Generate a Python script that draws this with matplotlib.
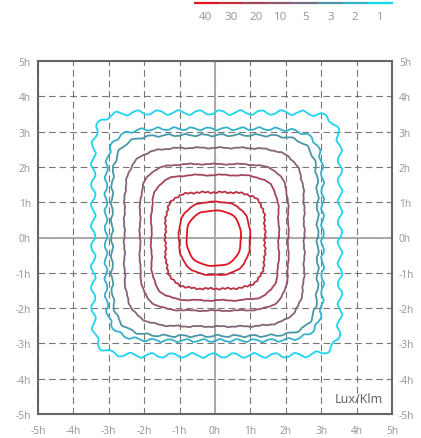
import numpy as np
import matplotlib
matplotlib.use('Agg')
import matplotlib.pyplot as plt

plt.rcParams['font.family'] = ['Noto Sans', 'DejaVu Sans']

# ---------------- data ----------------
legend_labels = ['40', '30', '20', '10', '5', '3', '2', '1']
legend_colors = ['#e3131f', '#c4303e', '#a6465a', '#8c5a6c',
                 '#6e7282', '#4e94a8', '#30b4cc', '#14d6f0']

tick_values = [-5, -4, -3, -2, -1, 0, 1, 2, 3, 4, 5]
tick_labels = ['-5h', '-4h', '-3h', '-2h', '-1h', '0h', '1h', '2h', '3h', '4h', '5h']

# isolux contours, innermost first (extents in units of h)
contour_levels = [50, 40, 30, 20, 10, 5, 3, 2, 1]
ext_right  = [0.73, 0.99, 1.41, 1.80, 2.07, 2.52, 2.90, 3.04, 3.53]
ext_top    = [0.76, 1.01, 1.28, 1.77, 2.08, 2.54, 2.90, 3.08, 3.54]
ext_left   = [0.80, 1.02, 1.40, 1.80, 2.12, 2.56, 2.91, 3.08, 3.44]
ext_bottom = [0.80, 1.06, 1.45, 1.78, 2.07, 2.52, 2.79, 2.92, 3.34]
squareness = [2.5, 2.6, 4.0, 4.5, 4.8, 4.8, 6.0, 7.0, 10.0]
contour_colors = ['#e3131f', '#d21e2c', '#b83444', '#a4465a', '#94566a',
                  '#84647a', '#4a96a8', '#34b2ca', '#1ed4ef']
wave_amp  = [0.008, 0.010, 0.012, 0.014, 0.012, 0.014, 0.028, 0.038, 0.062]
wave_len  = [0.50, 0.50, 0.50, 0.70, 0.70, 0.60, 0.50, 0.48, 0.58]
jag_amp   = [0.000, 0.004, 0.016, 0.006, 0.006, 0.008, 0.006, 0.006, 0.006]
jag_len   = [0.20, 0.20, 0.16, 0.22, 0.22, 0.22, 0.22, 0.22, 0.22]


def squircle_outline(L, R, B, T, n, amp, wl, jamp, jwl, m=40000, k=3000):
    phi = np.linspace(0, 2 * np.pi, m)
    c, s_ = np.cos(phi), np.sin(phi)
    a = np.where(c >= 0, R, L)
    b = np.where(s_ >= 0, T, B)
    rr = 1.0 / (np.abs(c / a) ** n + np.abs(s_ / b) ** n) ** (1.0 / n)
    x0, y0 = rr * c, rr * s_
    s0 = np.concatenate([[0], np.cumsum(np.hypot(np.diff(x0), np.diff(y0)))])
    P = s0[-1]
    s = np.linspace(0, P, k)
    x = np.interp(s, s0, x0)
    y = np.interp(s, s0, y0)
    dx = np.gradient(x)
    dy = np.gradient(y)
    dx[0] = dx[-1] = x[1] - x[-2]
    dy[0] = dy[-1] = y[1] - y[-2]
    norm = np.hypot(dx, dy)
    norm[norm == 0] = 1
    nx, ny = dy / norm, -dx / norm
    k1 = max(1, round(P / wl))
    k2 = max(1, round(P / jwl))
    off = amp * np.sin(2 * np.pi * k1 * s / P) + jamp * np.sin(2 * np.pi * k2 * s / P + 1.3)
    return x + off * nx, y + off * ny


# ---------------- figure ----------------
W, H = 421, 439
fig = plt.figure(figsize=(W / 100, H / 100), dpi=100)
ax = fig.add_axes([38 / W, (H - 415) / H, 354 / W, 353 / H])

ax.set_xlim(-5, 5)
ax.set_ylim(-5, 5)
ax.set_xticks(tick_values)
ax.set_yticks(tick_values)
ax.set_xticklabels(tick_labels)
ax.set_yticklabels(tick_labels)
ax.tick_params(axis='both', length=0, labelsize=7.3, labelcolor='#9a9a9a')
ax.tick_params(axis='x', pad=8)
ax.tick_params(axis='y', pad=5, labelright=True)
for sp in ax.spines.values():
    sp.set_color('#666666')
    sp.set_linewidth(1.5)

ax.grid(True, color='#777777', linewidth=0.8, linestyle=(0, (6, 3.5)))
ax.set_axisbelow(True)
ax.axhline(0, color='#aaaaaa', linewidth=1.4, zorder=1.5)
ax.axvline(0, color='#aaaaaa', linewidth=1.4, zorder=1.5)

for i in range(len(contour_levels)):
    x, y = squircle_outline(ext_left[i], ext_right[i], ext_bottom[i], ext_top[i],
                            squareness[i], wave_amp[i], wave_len[i],
                            jag_amp[i], jag_len[i])
    ax.plot(x, y, color=contour_colors[i], linewidth=1.3, zorder=3,
            solid_joinstyle='round')

ax.text(4.75, -4.75, 'Lux/Klm', ha='right', va='bottom', fontsize=9,
        color='#666666', zorder=4)

# ---------------- legend ----------------
lax = fig.add_axes([193.5 / W, (H - 26) / H, 199 / W, 26 / H])
lax.set_xlim(0, len(legend_labels))
lax.set_ylim(26, 0)
lax.axis('off')
for i, (lab, col) in enumerate(zip(legend_labels, legend_colors)):
    lax.plot([i, i + 1], [4, 4], color=col, linewidth=1.6,
             solid_capstyle='butt')
    lax.text(i + 0.5, 17.5, lab, ha='center', va='center', fontsize=8.3,
             color='#9a9a9a')

fig.savefig('out.png', dpi=100)
